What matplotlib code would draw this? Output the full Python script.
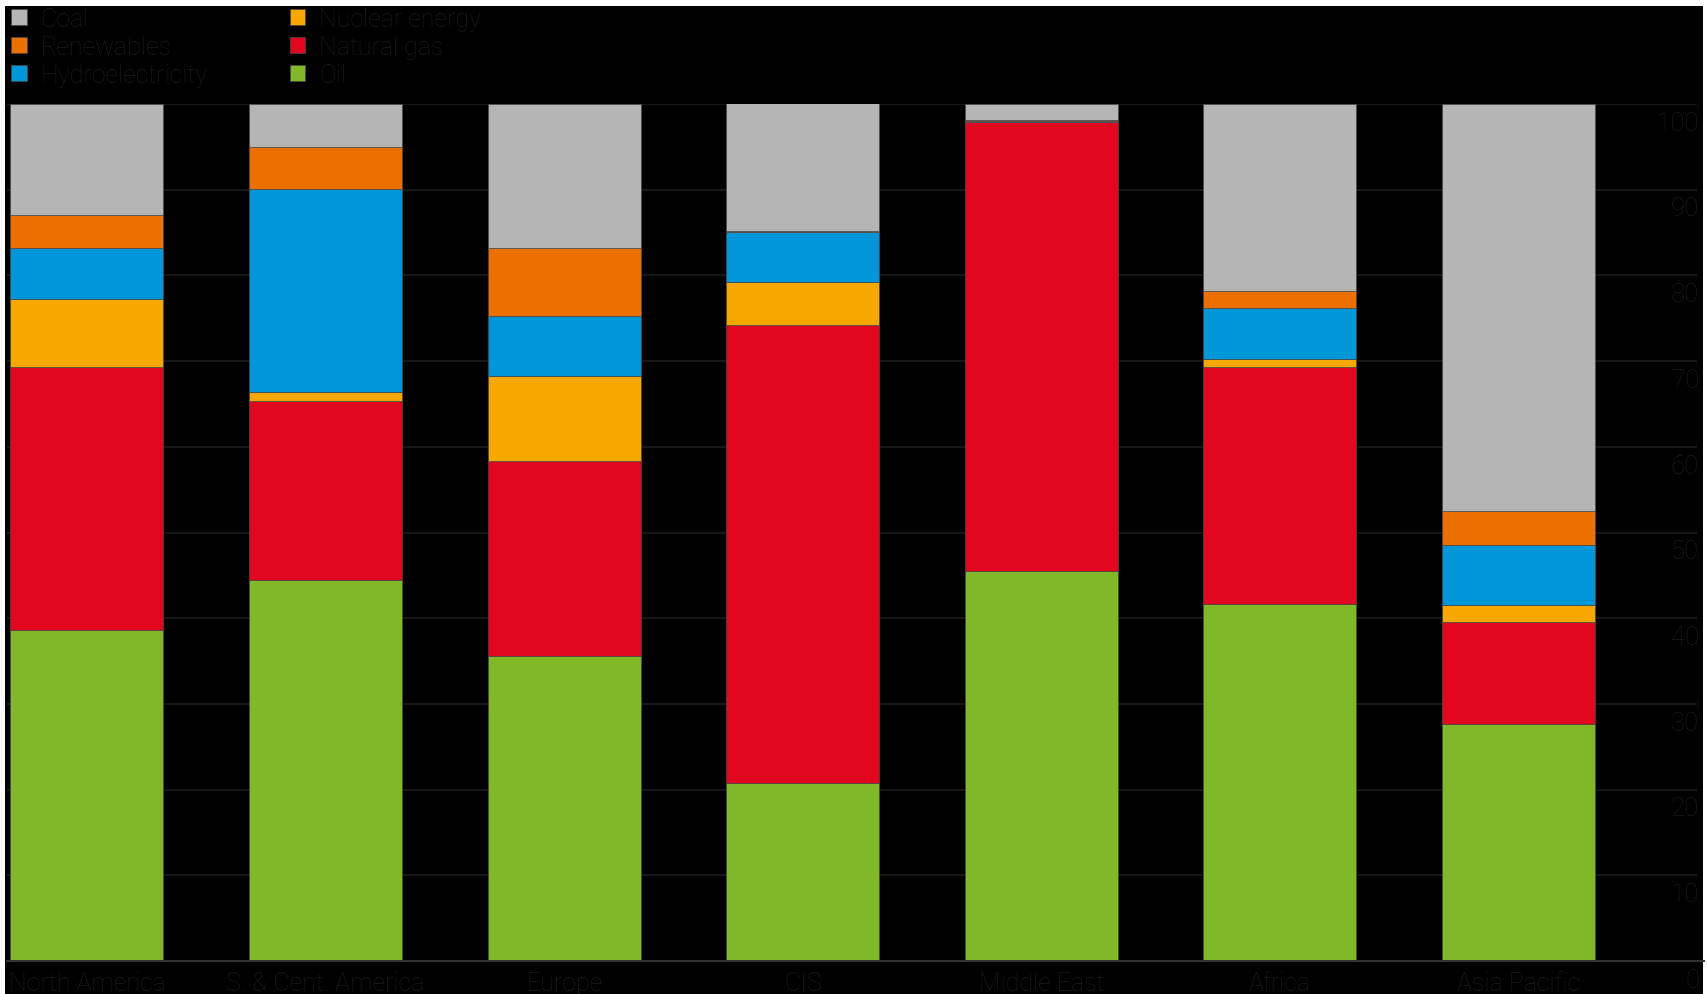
import matplotlib
matplotlib.use("Agg")
import matplotlib.pyplot as plt
from matplotlib import font_manager
from matplotlib.patches import Rectangle

# share of primary energy by fuel, per region (%)
regions = ["North America", "S. & Cent. America", "Europe", "CIS",
           "Middle East", "Africa", "Asia Pacific"]
oil = [38.6, 44.5, 35.6, 20.8, 45.5, 41.6, 27.7]
natural_gas = [30.7, 20.8, 22.8, 53.4, 52.4, 27.7, 11.9]
nuclear = [7.9, 1.1, 9.9, 5.0, 0.0, 1.0, 1.9]
hydro = [6.0, 23.7, 7.0, 5.9, 0.1, 5.9, 7.0]
renewables = [3.9, 4.9, 7.9, 0.1, 0.1, 2.0, 4.0]
coal = [12.9, 5.0, 16.8, 14.9, 1.9, 21.8, 47.5]

yticks = [0, 10, 20, 30, 40, 50, 60, 70, 80, 90, 100]

# stacking order, bottom to top
stack = [("Oil", oil, "#80b828"),
         ("Natural gas", natural_gas, "#e2061e"),
         ("Nuclear energy", nuclear, "#f6a800"),
         ("Hydroelectricity", hydro, "#0096d7"),
         ("Renewables", renewables, "#ec7000"),
         ("Coal", coal, "#b6b5b5")]

names = {f.name for f in font_manager.fontManager.ttflist}
family = "Liberation Sans Narrow" if "Liberation Sans Narrow" in names else "Roboto"
plt.rcParams["font.family"] = [family, "DejaVu Sans"]
plt.rcParams["font.weight"] = "light"

text_col = "#1b1b1b"
W, H = 1707, 994
fig = plt.figure(figsize=(W / 100, H / 100), dpi=100, facecolor="white")

def fx(px):
    return px / W

def fy(py):
    return 1 - py / H

# black panel inside the thin white frame
fig.patches.append(Rectangle((fx(5), 0), fx(1702.5) - fx(5), fy(6),
                             transform=fig.transFigure, facecolor="black",
                             edgecolor="none", zorder=-10))

ax = fig.add_axes([fx(7), fy(961), fx(1697) - fx(7), fy(104) - fy(961)])
ax.set_facecolor("none")
for s in ax.spines.values():
    s.set_visible(False)

x = list(range(len(regions)))
bottom = [0.0] * len(regions)
for name, vals, col in stack:
    ax.bar(x, vals, width=0.641, bottom=bottom, color=col,
           edgecolor="#4a4a4a", linewidth=0.5, zorder=3)
    bottom = [b + v for b, v in zip(bottom, vals)]

ax.set_xlim(-0.335, 6.748)
ax.set_ylim(0, 100)

for t in yticks[1:]:
    ax.axhline(t, color="#1c1c1c", linewidth=1.2, zorder=1)
ax.axhline(0, xmax=1.004, color="#333333", linewidth=1.4, zorder=4, clip_on=False)

ax.set_xticks(x)
ax.set_xticklabels(regions, fontsize=18, color=text_col)
ax.tick_params(axis="x", length=0, pad=8)
ax.set_yticks([])

for t in yticks:
    ax.text(1.0012, t - 0.9, str(t), transform=ax.get_yaxis_transform(),
            ha="right", va="top", fontsize=18.5, color=text_col)

# legend: two columns of three
legend_items = list(reversed(stack))
for i, (name, vals, col) in enumerate(legend_items):
    c, r = divmod(i, 3)
    x0 = 11 + c * 278.5
    yc = 17.3 + r * 28
    fig.patches.append(Rectangle((fx(x0), fy(yc + 7.5)), fx(15.5), 15.5 / H,
                                 transform=fig.transFigure, facecolor=col,
                                 edgecolor="#4a4a4a", linewidth=0.5))
    fig.text(fx(x0 + 29.5), fy(yc), name, fontsize=18, color=text_col,
             ha="left", va="center_baseline")

fig.savefig("out.png", dpi=100, facecolor=fig.get_facecolor())
